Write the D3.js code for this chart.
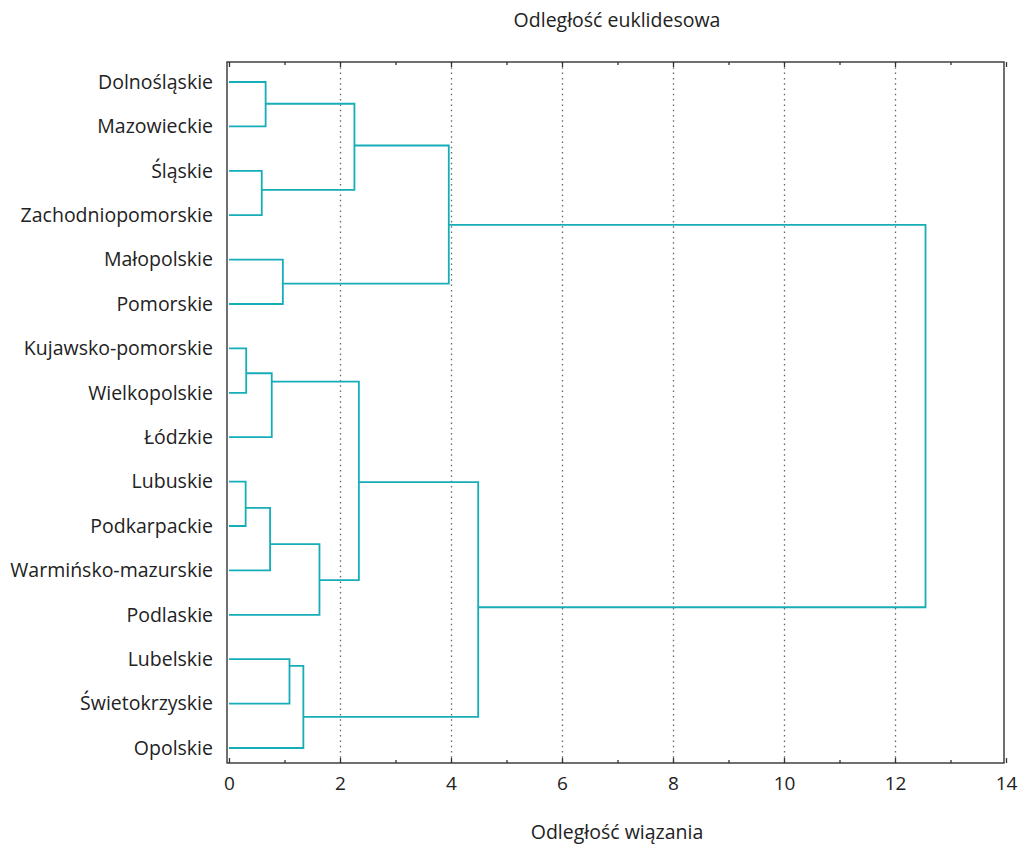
<!DOCTYPE html>
<meta charset='utf-8'>
<style>
body { margin: 0; background: #fff; }
text { font-family: 'Open Sans', 'Noto Sans', sans-serif; fill: #222; }
.grid line { stroke: #666; stroke-width: 1.3; stroke-dasharray: 1.5 3.8; }
.ticks line { stroke: #333; stroke-width: 1.3; }
.link { fill: none; stroke: #14adb8; stroke-width: 1.8; }
</style>
<svg width='1021' height='844'></svg>
<script src='https://cdnjs.cloudflare.com/ajax/libs/d3/7.8.5/d3.min.js'></script>
<script>

// leaves, top to bottom
var regions = ['Dolnośląskie', 'Mazowieckie', 'Śląskie', 'Zachodniopomorskie', 'Małopolskie', 'Pomorskie',
    'Kujawsko-pomorskie', 'Wielkopolskie', 'Łódzkie', 'Lubuskie', 'Podkarpackie', 'Warmińsko-mazurskie',
    'Podlaskie', 'Lubelskie', 'Świetokrzyskie', 'Opolskie'];

// node ids 0..15 are regions, join i creates node 16 + i
var joinLeft  = [0, 2, 16, 4, 18, 6, 21, 9, 23, 24, 22, 13, 27, 26, 20];
var joinRight = [1, 3, 17, 5, 19, 7, 8, 10, 11, 12, 25, 14, 15, 28, 29];
var joinDistance = [0.66, 0.59, 2.26, 0.97, 3.96, 0.31, 0.77, 0.30, 0.74, 1.63, 2.34, 1.09, 1.34, 4.49, 12.55];
// row (in leaf units) where each new cluster's stem leaves it
var stemRow = [0.49, 2.43, 1.43, 4.54, 3.22, 6.56, 6.75, 9.59, 10.41, 11.22, 9.01, 13.15, 14.30, 11.83, null];

var majorTicks = [0, 2, 4, 6, 8, 10, 12, 14],
    minorTicks = [1, 3, 5, 7, 9, 11, 13],
    gridTicks = [2, 4, 6, 8, 10, 12];

var svg = d3.select('svg'),
    box = {left: 227, top: 62, right: 1004, bottom: 763};

var x = d3.scaleLinear().domain([0, 14]).range([box.left + 2, box.right + 2]);
var yRow = d3.scaleLinear().domain([0, regions.length - 1]).range([82, 748]);
var yName = d3.scalePoint().domain(regions).range([82, 748]);

// dotted grid
svg.append('g')
    .attr('class', 'grid')
    .attr('transform', 'translate(0,' + box.top + ')')
    .call(d3.axisBottom(x).tickValues(gridTicks).tickSize(box.bottom - box.top).tickFormat(''))
    .call(g => g.select('.domain').remove());

// inward ticks, top and bottom
function inward(sel, axis, size, vals) {
    sel.append('g')
        .attr('class', 'ticks')
        .call(axis(x).tickValues(vals).tickSize(size).tickFormat(''))
        .call(g => g.select('.domain').remove());
}
var topTicks = svg.append('g').attr('transform', 'translate(0,' + box.top + ')');
inward(topTicks, d3.axisBottom, 5, majorTicks);
inward(topTicks, d3.axisBottom, 3, minorTicks);
var botTicks = svg.append('g').attr('transform', 'translate(0,' + box.bottom + ')');
inward(botTicks, d3.axisTop, 5, majorTicks);
inward(botTicks, d3.axisTop, 3, minorTicks);

// tick labels
svg.append('g')
    .attr('transform', 'translate(0,' + box.bottom + ')')
    .call(d3.axisBottom(x).tickValues(majorTicks).tickSize(0).tickPadding(14))
    .call(g => g.select('.domain').remove())
    .selectAll('text')
    .style('font-size', '19px');

// region names
svg.append('g')
    .attr('transform', 'translate(' + box.left + ',0)')
    .call(d3.axisLeft(yName).tickSize(0).tickPadding(14))
    .call(g => g.select('.domain').remove())
    .selectAll('text')
    .style('font-size', '19.5px');

// dendrogram links
function row(n) { return n < regions.length ? n : stemRow[n - regions.length]; }
function dist(n) { return n < regions.length ? 0 : joinDistance[n - regions.length]; }

svg.append('g')
    .selectAll('path')
    .data(joinDistance)
    .join('path')
    .attr('class', 'link')
    .attr('d', (h, i) => {
        var a = joinLeft[i], b = joinRight[i];
        return 'M' + x(dist(a)) + ',' + yRow(row(a)) +
            'H' + x(h) + 'V' + yRow(row(b)) + 'H' + x(dist(b));
    });

// frame
svg.append('rect')
    .attr('x', box.left).attr('y', box.top)
    .attr('width', box.right - box.left).attr('height', box.bottom - box.top)
    .attr('fill', 'none').attr('stroke', '#333').attr('stroke-width', 1.4);

// titles
svg.append('text')
    .attr('x', 617).attr('y', 27)
    .attr('text-anchor', 'middle')
    .style('font-size', '19.5px')
    .text('Odległość euklidesowa');

svg.append('text')
    .attr('x', 617).attr('y', 839)
    .attr('text-anchor', 'middle')
    .style('font-size', '19.5px')
    .text('Odległość wiązania');
</script>
